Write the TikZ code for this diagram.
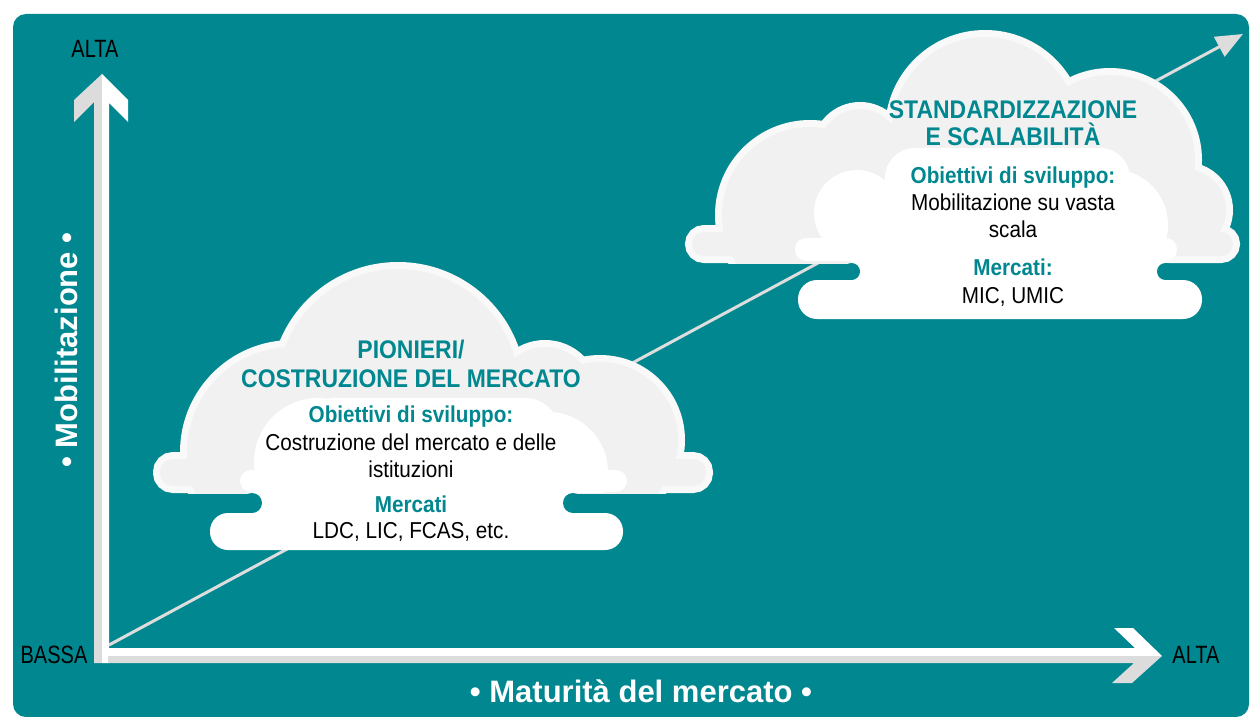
\documentclass[tikz,border=0pt]{standalone}
\usepackage{fontspec}
\setmainfont{Liberation Sans}
\newfontfamily\cloudfont[FakeStretch=0.9]{Liberation Sans}
\newfontfamily\axisfont[FakeStretch=0.8]{Liberation Sans}
\usepackage{tikz}
\usetikzlibrary{arrows.meta}
\definecolor{tealbg}{HTML}{00878F}
\definecolor{cloudrim}{HTML}{F9F9F9}
\definecolor{cloudgray}{HTML}{F1F1F1}
\definecolor{axisgray}{HTML}{DCDCDC}
\definecolor{trendgray}{HTML}{DDDDDD}

\begin{document}
\begin{tikzpicture}[x=1pt, y=-1pt,
  rim/.style={draw=cloudrim, line width=14pt, fill=cloudrim},
  puff/.style={fill=cloudgray},
  inner/.style={fill=white},
  cloudhead/.style={anchor=base, text=tealbg, font=\cloudfont\bfseries\fontsize{25.5}{30}\selectfont},
  cloudsub/.style={anchor=base, text=tealbg, font=\cloudfont\bfseries\fontsize{23}{27}\selectfont},
  cloudtext/.style={anchor=base, text=black, font=\cloudfont\fontsize{23}{27}\selectfont},
  axislabel/.style={anchor=base, text=black, font=\axisfont\fontsize{25}{30}\selectfont},
  axistitle/.style={anchor=base, text=white, font=\bfseries\fontsize{31}{36}\selectfont}]

\useasboundingbox (0,0) rectangle (1250,717);
\fill[tealbg, rounded corners=13pt] (13,14) rectangle (1249,717);

% trend line
\coordinate (origin) at (109,645);
\coordinate (trendtip) at (1243,34);
\draw[trendgray, line width=3pt, -{Triangle[length=27pt, width=22pt]}] (origin) -- (trendtip);

% cloud 1: pionieri
\begin{scope}
\clip (0,0) rectangle (1250,493);
\draw[rim] (398,390) circle [radius=121];
\draw[rim] (545,395) circle [radius=48];
\draw[rim] (292,452) circle [radius=105];
\draw[rim] (600,440) circle [radius=78];
\draw[rim, rounded corners=13pt] (160,459) rectangle (706,486);
\fill[puff] (398,390) circle [radius=121];
\fill[puff] (545,395) circle [radius=48];
\fill[puff] (292,452) circle [radius=105];
\fill[puff] (600,440) circle [radius=78];
\fill[puff, rounded corners=13pt] (160,459) rectangle (706,486);
\end{scope}
\begin{scope}
\clip (0,0) rectangle (1250,492);
\fill[inner] (318,462) circle [radius=64];
\fill[inner] (548,472) circle [radius=60];
\fill[inner, rounded corners=35pt] (300,398) rectangle (560,495);
\end{scope}
\fill[inner, rounded corners=11pt] (240,470) rectangle (627,492);
\fill[inner] (252,480) rectangle (573,520);
\fill[inner, rounded corners=18pt] (210,513) rectangle (623,550);
\fill[tealbg] (252,503) circle [radius=10];
\fill[tealbg] (573,503) circle [radius=10];

% cloud 2: standardizzazione
\begin{scope}
\clip (0,0) rectangle (1250,263);
\draw[rim] (810,215) circle [radius=88];
\draw[rim] (860,150) circle [radius=41];
\draw[rim] (985,130) circle [radius=93];
\draw[rim] (1110,160) circle [radius=85];
\draw[rim] (1185,210) circle [radius=41];
\draw[rim, rounded corners=12pt] (692,232) rectangle (1233,256);
\fill[puff] (810,215) circle [radius=88];
\fill[puff] (860,150) circle [radius=41];
\fill[puff] (985,130) circle [radius=93];
\fill[puff] (1110,160) circle [radius=85];
\fill[puff] (1185,210) circle [radius=41];
\fill[puff, rounded corners=12pt] (692,232) rectangle (1233,256);
\end{scope}
\begin{scope}
\clip (0,0) rectangle (1250,261);
\fill[inner] (857,213) circle [radius=43];
\fill[inner] (1112,225) circle [radius=56];
\fill[inner, rounded corners=30pt] (885,148) rectangle (1130,264);
\end{scope}
\fill[inner, rounded corners=11pt] (795,238) rectangle (1177,261);
\fill[inner] (851,255) rectangle (1166,290);
\fill[inner, rounded corners=19pt] (798,280) rectangle (1202,319);
\fill[tealbg] (851.5,271.5) circle [radius=8.5];
\fill[tealbg] (1165.5,271.5) circle [radius=8.5];

% axes
\fill[axisgray] (102,74)--(74,100)--(74,122)--(94,102)--(94,663)--(102,663)--cycle;
\fill[white] (102,74)--(128,100)--(128,122)--(109,103)--(109,663)--(102,663)--cycle;
\fill[white] (109,648)--(1135,648)--(1114,628)--(1133,628)--(1162,656)--(109,656)--cycle;
\fill[axisgray] (108,656)--(1162,656)--(1132,683)--(1112,683)--(1134,663)--(108,663)--cycle;

\node[axislabel] (altay) at (95,58) {ALTA};
\node[axislabel] (bassa) at (54,663) {BASSA};
\node[axislabel] (altax) at (1196,663) {ALTA};
\node[axistitle, rotate=90] (mobilitazione) at (77,350) {• Mobilitazione •};
\node[axistitle] (maturita) at (641,702) {• Maturità del mercato •};

% texts of cloud 1
\node[cloudhead] (pionieri) at (411,358) {PIONIERI/};
\node[cloudhead] (costruzione) at (411,387) {COSTRUZIONE DEL MERCATO};
\node[cloudsub] (obiettivi1) at (411,422) {Obiettivi di sviluppo:};
\node[cloudtext] (scopo1a) at (411,450) {Costruzione del mercato e delle};
\node[cloudtext] (scopo1b) at (411,477) {istituzioni};
\node[cloudsub] (mercati1) at (411,512) {Mercati};
\node[cloudtext] (paesi1) at (411,538) {LDC, LIC, FCAS, etc.};

% texts of cloud 2
\node[cloudhead] (standard) at (1013,118) {STANDARDIZZAZIONE};
\node[cloudhead] (scala) at (1013,145) {E SCALABILITÀ};
\node[cloudsub] (obiettivi2) at (1013,183) {Obiettivi di sviluppo:};
\node[cloudtext] (scopo2a) at (1013,210) {Mobilitazione su vasta};
\node[cloudtext] (scopo2b) at (1013,237) {scala};
\node[cloudsub] (mercati2) at (1013,275) {Mercati:};
\node[cloudtext] (paesi2) at (1013,303) {MIC, UMIC};

\end{tikzpicture}
\end{document}
